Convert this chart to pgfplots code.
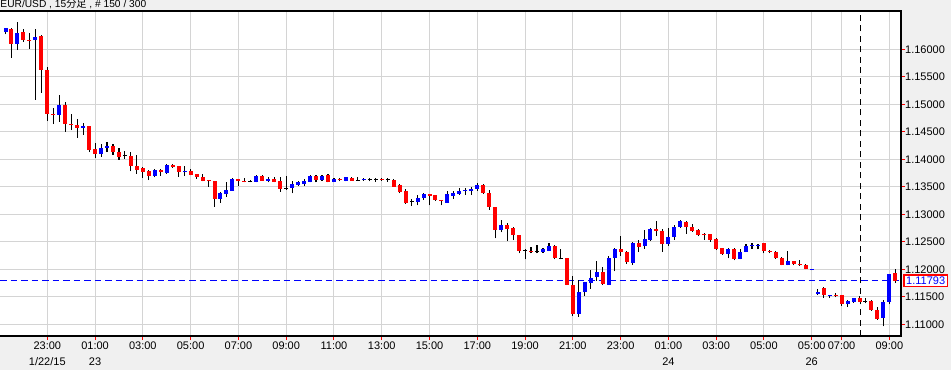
\documentclass[border=0pt]{standalone}
\usepackage{pgfplots}
\pgfplotsset{compat=1.18}
\usepackage{pgfplotstable}
\usepackage{fontspec}
\setmainfont{Liberation Sans}
\newfontfamily\cjk{Noto Sans CJK JP}
\definecolor{bg}{HTML}{F0F0F0}
\definecolor{gridc}{HTML}{D4D4D4}
\definecolor{cred}{HTML}{FF0000}
\definecolor{cblue}{HTML}{0000FF}

\pgfplotstableread{
i o h l c
0 1.1632 1.1639 1.1627 1.1638
1 1.1637 1.1638 1.1585 1.1610
2 1.1611 1.1650 1.1599 1.1630
3 1.1631 1.1636 1.1614 1.1617
4 1.1617 1.1630 1.1601 1.1616
5 1.1617 1.1636 1.1508 1.1622
6 1.1624 1.1626 1.1521 1.1563
7 1.1562 1.1567 1.1470 1.1483
8 1.1483 1.1493 1.1464 1.1482
9 1.1481 1.1517 1.1468 1.1499
10 1.1499 1.1504 1.1450 1.1465
11 1.1464 1.1483 1.1453 1.1463
12 1.1462 1.1473 1.1439 1.1457
13 1.1457 1.1466 1.1445 1.1461
14 1.1461 1.1461 1.1413 1.1417
15 1.1418 1.1430 1.1403 1.1410
16 1.1410 1.1427 1.1405 1.1421
17 1.1421 1.1432 1.1413 1.1425
18 1.1425 1.1428 1.1408 1.1414
19 1.1414 1.1420 1.1399 1.1405
20 1.1406 1.1415 1.1401 1.1406
21 1.1406 1.1414 1.1378 1.1388
22 1.1388 1.1408 1.1374 1.1382
23 1.1384 1.1386 1.1366 1.1377
24 1.1378 1.1380 1.1362 1.1370
25 1.1371 1.1382 1.1367 1.1381
26 1.1381 1.1383 1.1370 1.1377
27 1.1376 1.1391 1.1373 1.1390
28 1.1390 1.1392 1.1385 1.1387
29 1.1387 1.1387 1.1368 1.1377
30 1.1378 1.1388 1.1370 1.1379
31 1.1379 1.1383 1.1371 1.1373
32 1.1373 1.1373 1.1365 1.1368
33 1.1368 1.1373 1.1360 1.1362
34 1.1362 1.1362 1.1350 1.1361
35 1.1360 1.1360 1.1314 1.1328
36 1.1328 1.1341 1.1321 1.1338
37 1.1337 1.1358 1.1331 1.1344
38 1.1344 1.1366 1.1343 1.1365
39 1.1364 1.1364 1.1351 1.1361
40 1.1361 1.1366 1.1358 1.1360
41 1.1359 1.1362 1.1358 1.1359
42 1.1359 1.1371 1.1358 1.1370
43 1.1370 1.1372 1.1361 1.1362
44 1.1362 1.1368 1.1358 1.1365
45 1.1365 1.1367 1.1358 1.1360
46 1.1360 1.1368 1.1341 1.1346
47 1.1346 1.1370 1.1345 1.1346
48 1.1348 1.1360 1.1338 1.1355
49 1.1354 1.1360 1.1352 1.1358
50 1.1356 1.1364 1.1352 1.1361
51 1.1360 1.1371 1.1358 1.1370
52 1.1370 1.1371 1.1358 1.1364
53 1.1364 1.1372 1.1361 1.1370
54 1.1371 1.1373 1.1358 1.1360
55 1.1360 1.1366 1.1359 1.1365
56 1.1364 1.1366 1.1360 1.1363
57 1.1362 1.1368 1.1360 1.1367
58 1.1366 1.1367 1.1361 1.1362
59 1.1362 1.1367 1.1362 1.1362
60 1.1363 1.1366 1.1361 1.1364
61 1.1364 1.1366 1.1360 1.1364
62 1.1363 1.1366 1.1359 1.1363
63 1.1364 1.1366 1.1361 1.1363
64 1.1363 1.1366 1.1359 1.1363
65 1.1362 1.1364 1.1350 1.1351
66 1.1353 1.1355 1.1338 1.1342
67 1.1343 1.1346 1.1319 1.1322
68 1.1323 1.1327 1.1315 1.1323
69 1.1324 1.1335 1.1316 1.1330
70 1.1330 1.1338 1.1326 1.1337
71 1.1336 1.1336 1.1316 1.1335
72 1.1335 1.1335 1.1324 1.1327
73 1.1326 1.1326 1.1316 1.1325
74 1.1322 1.1342 1.1321 1.1336
75 1.1335 1.1343 1.1328 1.1339
76 1.1338 1.1348 1.1335 1.1343
77 1.1343 1.1348 1.1335 1.1344
78 1.1344 1.1349 1.1335 1.1346
79 1.1347 1.1356 1.1343 1.1354
80 1.1353 1.1355 1.1337 1.1339
81 1.1338 1.1344 1.1308 1.1314
82 1.1314 1.1314 1.1256 1.1273
83 1.1273 1.1290 1.1267 1.1281
84 1.1281 1.1284 1.1251 1.1275
85 1.1275 1.1276 1.1253 1.1263
86 1.1263 1.1263 1.1229 1.1234
87 1.1234 1.1236 1.1218 1.1234
88 1.1234 1.1240 1.1229 1.1233
89 1.1232 1.1245 1.1229 1.1232
90 1.1232 1.1238 1.1230 1.1236
91 1.1234 1.1248 1.1233 1.1242
92 1.1242 1.1244 1.1218 1.1221
93 1.1220 1.1236 1.1218 1.1220
94 1.1220 1.1221 1.1171 1.1172
95 1.1171 1.1187 1.1115 1.1119
96 1.1119 1.1181 1.1114 1.1159
97 1.1159 1.1177 1.1152 1.1176
98 1.1176 1.1199 1.1165 1.1185
99 1.1186 1.1215 1.1179 1.1195
100 1.1195 1.1204 1.1171 1.1175
101 1.1173 1.1225 1.1171 1.1220
102 1.1221 1.1238 1.1196 1.1236
103 1.1236 1.1261 1.1225 1.1232
104 1.1232 1.1233 1.1210 1.1214
105 1.1213 1.1249 1.1208 1.1248
106 1.1248 1.1254 1.1231 1.1242
107 1.1243 1.1272 1.1237 1.1255
108 1.1255 1.1275 1.1252 1.1273
109 1.1273 1.1288 1.1261 1.1270
110 1.1270 1.1273 1.1232 1.1247
111 1.1246 1.1275 1.1243 1.1259
112 1.1259 1.1281 1.1254 1.1277
113 1.1278 1.1289 1.1275 1.1287
114 1.1286 1.1287 1.1265 1.1277
115 1.1277 1.1283 1.1268 1.1271
116 1.1271 1.1273 1.1260 1.1264
117 1.1265 1.1266 1.1254 1.1264
118 1.1265 1.1265 1.1250 1.1254
119 1.1255 1.1256 1.1235 1.1238
120 1.1238 1.1239 1.1226 1.1228
121 1.1228 1.1239 1.1220 1.1236
122 1.1236 1.1239 1.1216 1.1219
123 1.1219 1.1237 1.1218 1.1232
124 1.1232 1.1246 1.1231 1.1243
125 1.1243 1.1247 1.1237 1.1245
126 1.1244 1.1246 1.1236 1.1245
127 1.1247 1.1248 1.1229 1.1234
128 1.1234 1.1235 1.1229 1.1233
129 1.1232 1.1233 1.1219 1.1222
130 1.1221 1.1222 1.1207 1.1208
131 1.1208 1.1234 1.1207 1.1215
132 1.1215 1.1215 1.1207 1.1210
133 1.1210 1.1216 1.1206 1.1209
134 1.1208 1.1210 1.1200 1.1201
135 1.1199 1.1201 1.1198 1.1200
136 1.1156 1.1164 1.1153 1.1159
137 1.1166 1.1167 1.1148 1.1154
138 1.1153 1.1154 1.1148 1.1154
139 1.1154 1.1157 1.1149 1.1153
140 1.1153 1.1153 1.1133 1.1137
141 1.1137 1.1144 1.1132 1.1142
142 1.1141 1.1148 1.1139 1.1147
143 1.1148 1.1152 1.1141 1.1142
144 1.1142 1.1147 1.1138 1.1142
145 1.1143 1.1145 1.1125 1.1126
146 1.1126 1.1131 1.1108 1.1110
147 1.1112 1.1144 1.1096 1.1141
148 1.1141 1.1192 1.1136 1.1192
149 1.1193 1.1200 1.1175 1.11793
}\candles

\begin{document}
\begin{tikzpicture}[x=1pt,y=1pt]
\fill[bg] (0,0) rectangle (951,370);
\node[anchor=base west, inner sep=0pt, font=\fontsize{10.2}{12}\selectfont] at (0.3,362) {EUR/USD , 15{\cjk 分足} , \# 150 / 300};
\begin{axis}[at={(0pt,34pt)}, anchor=south west, scale only axis,
  width=901pt, height=325pt,
  xmin=-0.921, xmax=149.95, ymin=1.10787, ymax=1.16696,
  axis background/.style={fill=white},
  axis line style={draw=none},
  clip=false,
  grid=major, major grid style={draw=gridc, line width=1pt},
  tick align=outside, major tick length=4pt,
  major tick style={draw=cred, line width=1pt},
  xtick pos=bottom, ytick pos=right, yticklabel pos=right,
  xtick={7,15,23,31,39,47,55,63,71,79,87,95,103,111,119,127,135,140,148},
  xticklabels={{23:00\\1/22/15},{01:00\\23},03:00,05:00,07:00,09:00,11:00,13:00,15:00,17:00,19:00,21:00,23:00,{01:00\\24},03:00,05:00,{05:00\\26},07:00,09:00},
  ytick={1.11,1.115,1.12,1.125,1.13,1.135,1.14,1.145,1.15,1.155,1.16},
  yticklabels={1.11000,1.11500,1.12000,1.12500,1.13000,1.13500,1.14000,1.14500,1.15000,1.15500,1.16000},
  tick label style={font=\fontsize{11}{15.7}\selectfont, text=black},
  xticklabel style={align=center, inner sep=0pt, yshift=-2pt},
  yticklabel style={anchor=west, inner sep=0pt},
]
% reference lines
\addplot[cblue, dash pattern=on 6.5pt off 4pt, line width=1.3pt, forget plot] coordinates {(-0.921,1.11793) (149.95,1.11793)};
\addplot[black, dash pattern=on 6pt off 4.5pt, line width=1.2pt, forget plot] coordinates {(143.2,1.10787) (143.2,1.16696)};
% wicks
\addplot[draw=none, mark=none, forget plot,
  error bars/.cd, y dir=plus, y explicit, error mark=none,
  error bar style={draw=black, line width=1.1pt, solid}]
  table[x=i, y=l, y error plus expr=\thisrow{h}-\thisrow{l}] {\candles};
% red bodies
\addplot[cred, only marks, mark=-, mark size=2pt, mark options={line width=1pt, draw=cred}, forget plot,
  restrict expr to domain={\thisrow{o}-\thisrow{c}}{0.00001:1},
  error bars/.cd, y dir=plus, y explicit, error mark=none,
  error bar style={draw=cred, line width=4pt}]
  table[x=i, y=c, y error plus expr=\thisrow{o}-\thisrow{c}] {\candles};
% blue bodies
\addplot[cblue, only marks, mark=-, mark size=2pt, mark options={line width=1pt, draw=cblue}, forget plot,
  restrict expr to domain={\thisrow{c}-\thisrow{o}}{0.00001:1},
  error bars/.cd, y dir=plus, y explicit, error mark=none,
  error bar style={draw=cblue, line width=4pt}]
  table[x=i, y=o, y error plus expr=\thisrow{c}-\thisrow{o}] {\candles};
% flat bodies
\addplot[black, only marks, mark=-, mark size=2pt, mark options={line width=1pt, draw=black}, forget plot,
  restrict expr to domain={abs(\thisrow{c}-\thisrow{o})}{0:0.000005}]
  table[x=i, y=c] {\candles};
% borders
\draw[black, line width=1.4pt] (rel axis cs:0,1) -- (rel axis cs:1,1) -- (rel axis cs:1,0) -- (rel axis cs:0,0);
\node[draw=cred, line width=1.2pt, fill=white, text=cblue, font=\fontsize{11}{13}\selectfont, inner xsep=2.3pt, inner ysep=1.8pt, anchor=west, xshift=2.3pt] at (axis cs:149.95,1.11793) {1.11793};
\end{axis}
\pgfresetboundingbox
\path[use as bounding box] (0,0) rectangle (951,370);
\end{tikzpicture}
\end{document}
